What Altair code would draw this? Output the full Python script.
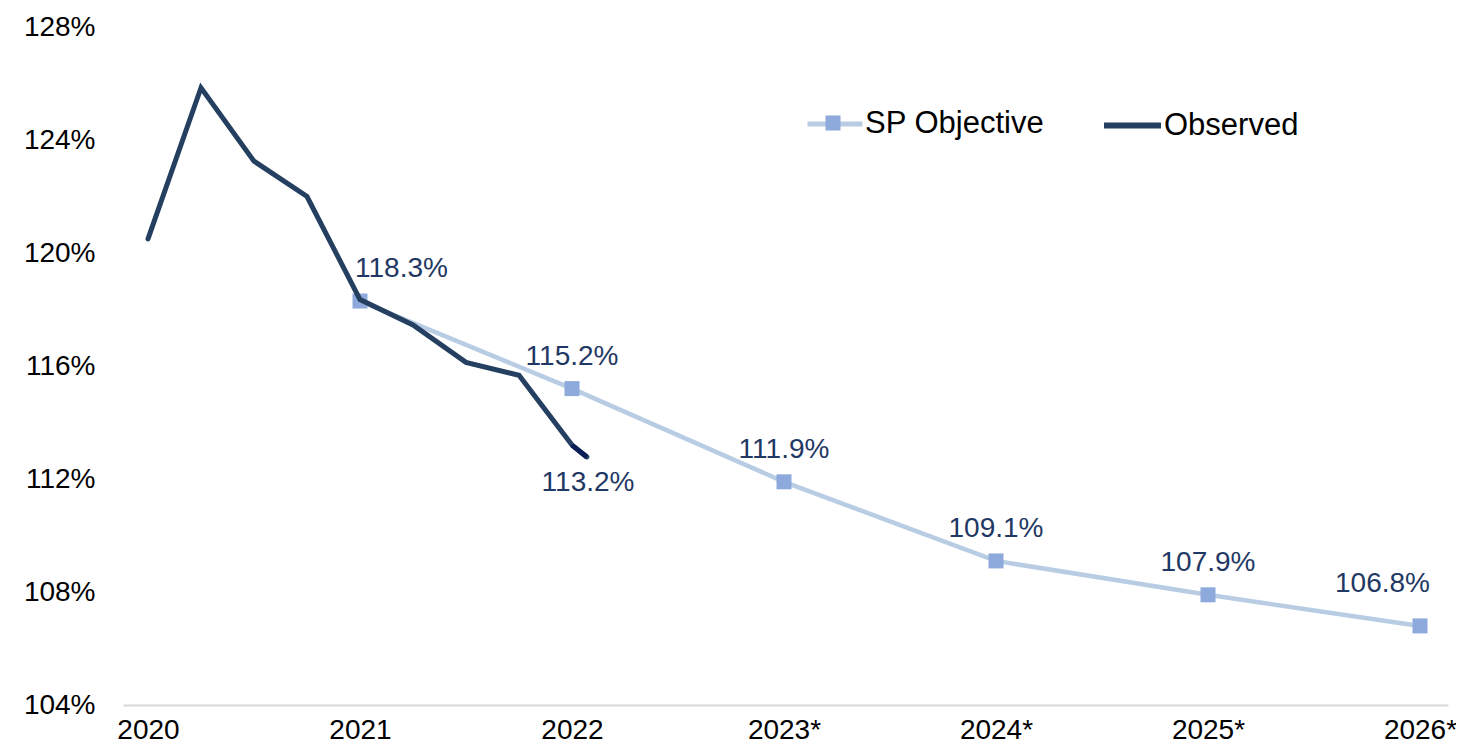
import altair as alt
import pandas as pd

# ---- data ----
obs_time = [2020.0, 2020.25, 2020.5, 2020.75, 2021.0, 2021.25, 2021.5, 2021.75, 2022.0, 2022.07]
obs_vals = [120.5, 125.85, 123.25, 122.0, 118.35, 117.45, 116.13, 115.67, 113.2, 112.78]
obs_label_text = "113.2%"

sp_years = [2021, 2022, 2023, 2024, 2025, 2026]
sp_vals = [118.3, 115.2, 111.9, 109.1, 107.9, 106.8]

tick_years = [2020, 2021, 2022, 2023, 2024, 2025, 2026]
tick_labels = ["2020", "2021", "2022", "2023*", "2024*", "2025*", "2026*"]
y_ticks = [104, 108, 112, 116, 120, 124, 128]
series_names = ["SP Objective", "Observed"]

# ---- colours ----
C_OBS = "#243F60"
C_OBS_END = "#0B1F56"
C_SP_LINE = "#B8CCE4"
C_SP_MARK = "#8EA9DB"
C_LABEL = "#1F3864"
FONT = "Liberation Sans"

sp_df = pd.DataFrame({
    "t": sp_years,
    "v": sp_vals,
    "label": [f"{v:.1f}%" for v in sp_vals],
    "series": series_names[0],
})
obs_df = pd.DataFrame({"t": obs_time, "v": obs_vals, "series": series_names[1]})
obs_end_df = obs_df.iloc[-2:].copy()
obs_lab_df = pd.DataFrame({"t": [obs_time[-2]], "v": [obs_vals[-2]], "label": [obs_label_text]})

label_js = "[" + ",".join(f"'{s}'" for s in tick_labels) + "]"

x_scale = alt.Scale(domain=[2020 - 25 / 212.0, 2026 + 28 / 212.0], nice=False, zero=False)
y_scale = alt.Scale(domain=[104, 128], nice=False, zero=False)

x_axis = alt.Axis(
    values=tick_years, title=None, grid=False, ticks=False,
    domain=True, domainColor="#D9D9D9", domainWidth=2,
    labelExpr=f"{label_js}[round(datum.value - {tick_years[0]})]",
    labelFont=FONT, labelFontSize=28, labelColor="#000000",
    labelPadding=11, labelOverlap=False, labelFlush=False,
)
y_axis = alt.Axis(
    values=y_ticks, title=None, grid=False, ticks=False, domain=False,
    labelExpr="datum.value + '%'",
    labelFont=FONT, labelFontSize=28, labelColor="#000000",
    labelPadding=28,
)


def X(field="t"):
    return alt.X(f"{field}:Q", scale=x_scale, axis=x_axis)


def Y(field="v"):
    return alt.Y(f"{field}:Q", scale=y_scale, axis=y_axis)


sp_line = alt.Chart(sp_df).mark_line(strokeWidth=4.5).encode(
    x=X(), y=Y(),
    color=alt.Color(
        "series:N",
        scale=alt.Scale(domain=[series_names[0]], range=[C_SP_LINE]),
        legend=alt.Legend(
            title=None, orient="none", legendX=682, legendY=67,
            symbolType="stroke", symbolSize=3025, symbolStrokeWidth=5,
            labelFont=FONT, labelFontSize=31, labelColor="#000000",
            labelOffset=0, labelLimit=0, padding=0,
        ),
    ),
)

sp_pts = alt.Chart(sp_df).mark_square(size=225, opacity=1, filled=True).encode(
    x=X(), y=Y(),
    fill=alt.Fill(
        "series:N",
        scale=alt.Scale(domain=[series_names[0]], range=[C_SP_MARK]),
        legend=alt.Legend(
            title=None, orient="none", legendX=701.5, legendY=87.5,
            symbolType="square", symbolSize=225, symbolOpacity=1,
            labelExpr="''", labelFontSize=1, labelOffset=0, padding=0,
        ),
    ),
)

obs_line = alt.Chart(obs_df).mark_line(strokeWidth=5, strokeJoin="miter", strokeCap="round").encode(
    x=X(), y=Y(),
    color=alt.Color(
        "series:N",
        scale=alt.Scale(domain=[series_names[1]], range=[C_OBS]),
        legend=alt.Legend(
            title=None, orient="none", legendX=978, legendY=67,
            symbolType="stroke", symbolSize=3249, symbolStrokeWidth=6,
            labelFont=FONT, labelFontSize=31, labelColor="#000000",
            labelOffset=0, labelLimit=0, padding=0,
        ),
    ),
)

obs_end = alt.Chart(obs_end_df).mark_line(strokeWidth=5, color=C_OBS_END, strokeCap="butt").encode(
    x=X(), y=Y()
)

txt_kw = dict(font=FONT, fontSize=28, color=C_LABEL, baseline="middle")

sp_first = alt.Chart(sp_df).transform_filter(alt.datum.t == sp_years[0]).mark_text(
    align="left", dx=-5, dy=-32, **txt_kw).encode(x=X(), y=Y(), text="label:N")
sp_mid = alt.Chart(sp_df).transform_filter(
    (alt.datum.t > sp_years[0]) & (alt.datum.t < sp_years[-1])
).mark_text(align="center", dx=0, dy=-32, **txt_kw).encode(x=X(), y=Y(), text="label:N")
sp_last = alt.Chart(sp_df).transform_filter(alt.datum.t == sp_years[-1]).mark_text(
    align="right", dx=10, dy=-42, **txt_kw).encode(x=X(), y=Y(), text="label:N")

obs_text = alt.Chart(obs_lab_df).mark_text(align="center", dx=16, dy=38, **txt_kw).encode(
    x=X(), y=Y(), text="label:N")

chart = (
    alt.layer(sp_line, sp_pts, obs_line, obs_end, sp_first, sp_mid, sp_last, obs_text)
    .resolve_scale(color="independent", fill="independent")
    .resolve_legend(color="independent", fill="independent")
    .properties(
        width=1325, height=678,
        autosize=alt.AutoSizeParams(type="none"),
        padding={"left": 115, "top": 19, "right": 8, "bottom": 38},
        background="white",
    )
    .configure_view(stroke=None)
)

chart.save("out.html", embed_options={"renderer": "svg", "actions": False})
